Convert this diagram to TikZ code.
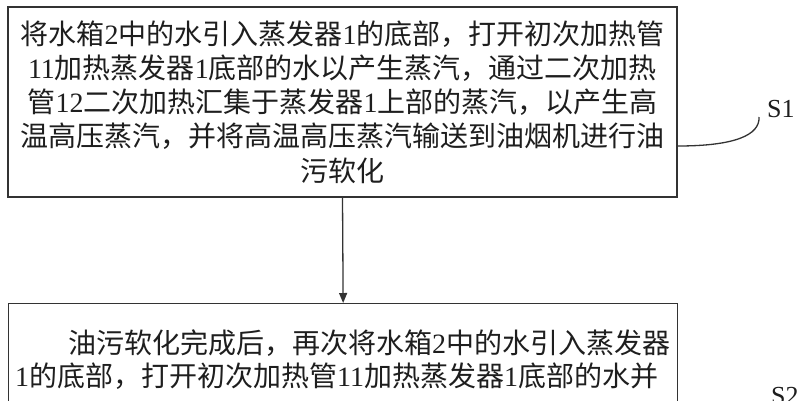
\documentclass[tikz,border=0pt]{standalone}
\usepackage{fontspec}
\setmainfont{Liberation Serif}
\newfontfamily\zhfont{Noto Sans CJK SC}
\usetikzlibrary{arrows.meta}
\XeTeXlinebreaklocale "zh"
\XeTeXlinebreakskip=0pt plus 3pt
\newcommand\zh[1]{{\zhfont #1}}
\definecolor{ink}{HTML}{1E1E1E}
\definecolor{linec}{HTML}{333333}
\begin{document}
\begin{tikzpicture}[x=1pt,y=-1pt,
  stepbox/.style={draw=linec, line width=1.3pt, inner sep=0pt},
  txt/.style={text=ink, inner sep=0pt, font=\fontsize{28}{34.25}\selectfont},
  lab/.style={text=ink, inner sep=0pt, font=\fontsize{26}{30}\selectfont},
  conn/.style={draw=linec, line width=1.3pt}]
\useasboundingbox[fill=white] (0,0) rectangle (802,400);
% box S1
\node[stepbox, txt, minimum width=669pt, minimum height=190pt, align=center] (s1box) at (342.5,102)
 {\zh{将水箱}2\zh{中的水引入蒸发器}1\zh{的底部，打开初次加热管}\\
  11\zh{加热蒸发器}1\zh{底部的水以产生蒸汽，通过二次加热}\\
  \zh{管}12\zh{二次加热汇集于蒸发器}1\zh{上部的蒸汽，以产生高}\\
  \zh{温高压蒸汽，并将高温高压蒸汽输送到油烟机进行油}\\
  \zh{污软化}};
% box S2
\node[stepbox, minimum width=669pt, minimum height=130pt, anchor=north west] (s2box) at (8,303) {};
\node[txt, anchor=base west] (s2l1) at (68,353.5)
 {\makebox[601pt][s]{\zh{油污软化完成后，再次将水箱}2\zh{中的水引入蒸发器}}};
\node[txt, anchor=base west] (s2l2) at (15,386.5)
 {1\zh{的底部，打开初次加热管}11\zh{加热蒸发器}1\zh{底部的水并}};
% arrow
\draw[conn, -{Triangle[length=10pt,width=8pt]}] (s1box.south) -- (s2box.north);
% labels
\node[lab, anchor=west] (l1) at (767,109) {S1};
\node[lab, anchor=west] (l2) at (771,396) {S2};
\coordinate (c1a) at (s1box.east |- 0,146);
\coordinate (c1b) at (759,117);
\draw[conn] (c1a) .. controls (735,146) and (760,135) .. (c1b);
\end{tikzpicture}
\end{document}
